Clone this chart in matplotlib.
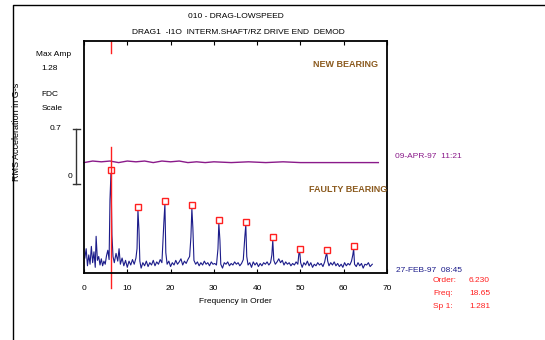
#!/usr/bin/env python
# Demodulated spectrum waterfall: new bearing vs faulty bearing
import numpy as np
import matplotlib.pyplot as plt
import matplotlib.transforms as mtransforms
from matplotlib.lines import Line2D

plt.rcParams['font.family'] = ['Liberation Sans', 'DejaVu Sans']

# faulty bearing trace (27-FEB-97), RMS acceleration in G-s vs order
blue_order = [0.2, 0.5, 0.8, 1.1, 1.4, 1.7, 2.0, 2.3, 2.6, 2.8, 3.1, 3.4, 3.7, 4.0,
              4.3, 4.6, 4.9, 5.2, 5.5, 5.8, 6.0, 6.23, 6.45, 6.7, 7.0, 7.4, 7.8, 8.1,
              8.4, 8.8, 9.2, 9.6, 10.0, 10.4, 10.8, 11.2, 11.6, 12.0, 12.25, 12.46,
              12.7, 12.9, 13.2, 13.6, 14.0, 14.4, 14.8, 15.2, 15.6, 16.0, 16.4, 16.8,
              17.2, 17.6, 18.0, 18.45, 18.69, 18.9, 19.2, 19.6, 20.0, 20.4, 20.8,
              21.2, 21.6, 22.0, 22.4, 22.8, 23.2, 23.6, 24.0, 24.4, 24.7, 24.92,
              25.15, 25.4, 25.8, 26.2, 26.6, 27.0, 27.4, 27.8, 28.2, 28.6, 29.0,
              29.4, 29.8, 30.2, 30.6, 30.95, 31.15, 31.4, 31.6, 32.0, 32.4, 32.8,
              33.2, 33.6, 34.0, 34.4, 34.8, 35.2, 35.6, 36.0, 36.4, 36.8, 37.15,
              37.38, 37.6, 37.9, 38.3, 38.7, 39.1, 39.5, 39.9, 40.3, 40.7, 41.1,
              41.5, 41.9, 42.3, 42.7, 43.1, 43.4, 43.61, 43.85, 44.2, 44.6, 45.0,
              45.4, 45.8, 46.2, 46.6, 47.0, 47.4, 47.8, 48.2, 48.6, 49.0, 49.4,
              49.65, 49.84, 50.05, 50.4, 50.8, 51.2, 51.6, 52.0, 52.4, 52.8, 53.2,
              53.6, 54.0, 54.4, 54.8, 55.2, 55.6, 55.85, 56.07, 56.3, 56.6, 57.0,
              57.4, 57.8, 58.2, 58.6, 59.0, 59.4, 59.8, 60.2, 60.6, 61.0, 61.4,
              61.8, 62.1, 62.3, 62.5, 62.9, 63.3, 63.7, 64.1, 64.5, 64.9, 65.3,
              65.7, 66.1, 66.6]
blue_amp = [0.18, 0.30, 0.08, 0.22, 0.10, 0.33, 0.12, 0.26, 0.06, 0.46, 0.15, 0.20,
            0.09, 0.17, 0.08, 0.14, 0.10, 0.21, 0.28, 0.16, 0.93, 1.28, 0.48, 0.20,
            0.12, 0.24, 0.14, 0.30, 0.10, 0.18, 0.08, 0.15, 0.06, 0.14, 0.09, 0.16,
            0.10, 0.18, 0.30, 0.80, 0.54, 0.14, 0.05, 0.12, 0.08, 0.14, 0.07, 0.12,
            0.09, 0.15, 0.08, 0.13, 0.10, 0.16, 0.12, 0.64, 0.88, 0.25, 0.10, 0.14,
            0.07, 0.12, 0.09, 0.15, 0.10, 0.13, 0.17, 0.09, 0.14, 0.11, 0.16, 0.20,
            0.45, 0.82, 0.57, 0.15, 0.10, 0.13, 0.08, 0.12, 0.09, 0.14, 0.10, 0.12,
            0.08, 0.13, 0.10, 0.11, 0.09, 0.30, 0.63, 0.41, 0.10, 0.05, 0.12, 0.10,
            0.13, 0.08, 0.11, 0.09, 0.13, 0.10, 0.12, 0.08, 0.11, 0.16, 0.45, 0.61,
            0.20, 0.09, 0.12, 0.06, 0.13, 0.09, 0.12, 0.07, 0.11, 0.08, 0.12, 0.10,
            0.13, 0.09, 0.12, 0.22, 0.41, 0.15, 0.10, 0.13, 0.17, 0.12, 0.15, 0.09,
            0.13, 0.10, 0.12, 0.08, 0.11, 0.09, 0.13, 0.10, 0.24, 0.26, 0.12, 0.06,
            0.12, 0.09, 0.14, 0.08, 0.12, 0.06, 0.10, 0.08, 0.12, 0.09, 0.11, 0.07,
            0.13, 0.20, 0.25, 0.14, 0.08, 0.12, 0.09, 0.13, 0.08, 0.11, 0.07, 0.10,
            0.06, 0.12, 0.08, 0.11, 0.09, 0.14, 0.22, 0.30, 0.10, 0.07, 0.12, 0.08,
            0.11, 0.05, 0.10, 0.09, 0.12, 0.07, 0.10]

# new bearing trace (09-APR-97), drawn above the faulty one
purple_offset = 1.41
purple_order = [0, 2, 4, 6, 8, 10, 12, 14, 16, 18, 20, 22, 24, 26, 28, 30, 34, 38,
                42, 46, 50, 54, 58, 62, 66, 68]
purple_amp = [0.0, 0.02, 0.01, 0.02, 0.0, 0.02, 0.01, 0.02, 0.0, 0.02, 0.01, 0.02,
              0.0, 0.01, 0.0, 0.01, 0.0, 0.01, 0.0, 0.01, 0.0, 0.0, 0.0, 0.0, 0.0, 0.0]

# 1x..10x harmonics of the cursor order
harm_order = [6.23, 12.46, 18.69, 24.92, 31.15, 37.38, 43.61, 49.84, 56.07, 62.3]
harm_amp = [1.28, 0.80, 0.88, 0.82, 0.63, 0.61, 0.41, 0.26, 0.25, 0.30]

cursor_order = 6.23
xticks = [0, 10, 20, 30, 40, 50, 60, 70]
stat_names = ['Order:', 'Freq:', 'Sp 1:']
stat_values = ['6.230', '18.65', '1.281']

W, H = 545, 340
FS = 6
fig = plt.figure(figsize=(W / 100, H / 100), dpi=100)

def fx(x):
    return x / W

def fy(y):
    return 1 - y / H

ax = fig.add_axes([fx(84), fy(273), (387 - 84) / W, (273 - 41) / H])
ax.set_xlim(0, 70)
ax.set_ylim(-0.013, 2.977)

navy = '#1c1c8a'
purple = '#8a1a8a'
red = '#ff2020'
brown = '#8b5a1e'

ax.plot(blue_order, blue_amp, color=navy, lw=0.8)
ax.plot(purple_order, np.array(purple_amp) + purple_offset, color=purple, lw=1.0,
        clip_on=False)

# peak markers sit just above each harmonic
mk = mtransforms.offset_copy(ax.transData, fig=fig, y=3, units='dots')
ax.plot(harm_order, harm_amp, 's', ms=4.2, mfc='white', mec=red, mew=1.0,
        transform=mk, clip_on=False)

# cursor line, broken around the header area
ax.plot([cursor_order, cursor_order], [2.82, 2.977], color=red, lw=1.0)
ax.plot([cursor_order, cursor_order], [1.61, -0.21], color=red, lw=1.0,
        clip_on=False)

ax.set_xticks(xticks)
ax.set_xticklabels([str(t) for t in xticks], fontsize=FS)
ax.tick_params(axis='x', direction='in', length=3, width=0.8, top=True, pad=9)
ax.set_yticks([])
for s in ax.spines.values():
    s.set_linewidth(1.3)
ax.set_xlabel('Frequency in Order', fontsize=FS, labelpad=4)

ax.text(0.97, 0.9, 'NEW BEARING', transform=ax.transAxes, ha='right', va='center',
        fontsize=6.5, fontweight='bold', color=brown)
ax.text(1.0, 0.36, 'FAULTY BEARING', transform=ax.transAxes, ha='right',
        va='center', fontsize=6.5, fontweight='bold', color=brown)

# titles
fig.text(fx(236), fy(16), '010 - DRAG-LOWSPEED', ha='center', va='center',
         fontsize=FS)
fig.text(fx(238), fy(32), 'DRAG1  -I1O  INTERM.SHAFT/RZ DRIVE END  DEMOD',
         ha='center', va='center', fontsize=FS)

# left side panel
fig.text(fx(17), fy(132), 'RMS Acceleration in G-s', rotation=90, ha='center',
         va='center', fontsize=6.5)
fig.text(fx(54), fy(55), 'Max Amp', ha='center', va='center', fontsize=FS)
fig.text(fx(50), fy(69), '1.28', ha='center', va='center', fontsize=FS)
fig.text(fx(50), fy(95), 'FDC', ha='center', va='center', fontsize=FS)
fig.text(fx(52), fy(108), 'Scale', ha='center', va='center', fontsize=FS)
fig.text(fx(56), fy(129), '0.7', ha='center', va='center', fontsize=FS)
fig.text(fx(70), fy(177), '0', ha='center', va='center', fontsize=FS)
for seg in ([[76, 76], [129, 184]], [[73, 80], [129, 129]], [[73, 80], [184, 184]]):
    fig.add_artist(Line2D([fx(v) for v in seg[0]], [fy(v) for v in seg[1]],
                          color='#333333', lw=1.0))

# outer frame
fig.add_artist(Line2D([fx(13), fx(13), fx(545)], [fy(340), fy(5), fy(5)],
                      color='black', lw=1.0))

# trace dates and cursor readout
fig.text(fx(395), fy(157), '09-APR-97  11:21', ha='left', va='center',
         fontsize=FS, color=purple)
fig.text(fx(396), fy(270), '27-FEB-97  08:45', ha='left', va='center',
         fontsize=FS, color=navy)
for i, (n, v) in enumerate(zip(stat_names, stat_values)):
    fig.text(fx(433), fy(280 + 13.5 * i), n, ha='left', va='center', fontsize=FS,
             color=red)
    fig.text(fx(469), fy(280 + 13.5 * i), v, ha='left', va='center', fontsize=FS,
             color=red)

fig.savefig('out.png', dpi=100)
